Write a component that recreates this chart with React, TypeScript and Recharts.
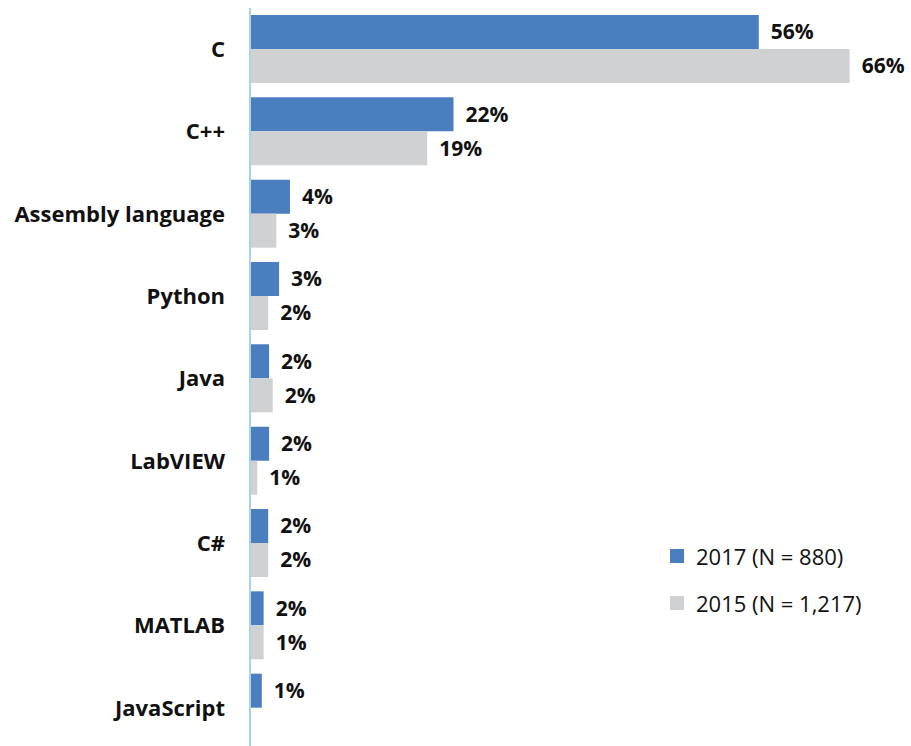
import React from 'react';
import { BarChart, Bar, XAxis, YAxis, LabelList } from 'recharts';

const languages = ['C', 'C++', 'Assembly language', 'Python', 'Java', 'LabVIEW', 'C#', 'MATLAB', 'JavaScript'];
const share2017 = [56, 22.4, 4.4, 3.2, 2.1, 2.1, 2.0, 1.5, 1.3];
const share2015 = [66, 19.5, 2.9, 2.0, 2.5, 0.8, 2.0, 1.5, 0];
const labels2017 = ['56%', '22%', '4%', '3%', '2%', '2%', '2%', '2%', '1%'];
const labels2015 = ['66%', '19%', '3%', '2%', '2%', '1%', '2%', '1%', ''];

const data = languages.map((name, i) => ({
    name,
    y2017: share2017[i],
    y2015: share2015[i],
    l2017: labels2017[i],
    l2015: labels2015[i],
}));

const BLUE = '#4a7ebf';
const GREY = '#d0d1d3';
const FONT = '"Open Sans", Lato, sans-serif';

const legendItems = [
    { label: '2017 (N = 880)', color: BLUE },
    { label: '2015 (N = 1,217)', color: GREY },
];

const tickStyle = { fill: '#111', fontSize: 22, fontWeight: 700, fontFamily: FONT };
const labelStyle = { fill: '#111', fontSize: 21, fontWeight: 700, fontFamily: FONT };

export default function App() {
    return (
        <div style={{ position: 'absolute', left: 0, top: 0, width: 911, height: 746, background: '#fff' }}>
            <BarChart
                width={911}
                height={746}
                data={data}
                layout="vertical"
                margin={{ top: 8, right: 25, left: 0, bottom: -3 }}
                barSize={34}
                barGap={0}
            >
                <XAxis type="number" domain={[0, 70]} hide />
                <YAxis
                    type="category"
                    dataKey="name"
                    width={250}
                    tickLine={false}
                    tickSize={0}
                    tickMargin={25}
                    axisLine={{ stroke: '#a6d6e6', strokeWidth: 2 }}
                    tick={tickStyle}
                />
                <Bar dataKey="y2017" fill={BLUE} isAnimationActive={false}>
                    <LabelList dataKey="l2017" position="right" offset={12} style={labelStyle} />
                </Bar>
                <Bar dataKey="y2015" fill={GREY} isAnimationActive={false}>
                    <LabelList dataKey="l2015" position="right" offset={12} style={labelStyle} />
                </Bar>
            </BarChart>
            <div style={{ position: 'absolute', left: 670, top: 532, fontFamily: FONT, fontSize: 22, color: '#111' }}>
                {legendItems.map((item) => (
                    <div key={item.label} style={{ display: 'flex', alignItems: 'center', height: 47 }}>
                        <span style={{ width: 14, height: 14, background: item.color, marginRight: 12 }} />
                        <span>{item.label}</span>
                    </div>
                ))}
            </div>
        </div>
    );
}
